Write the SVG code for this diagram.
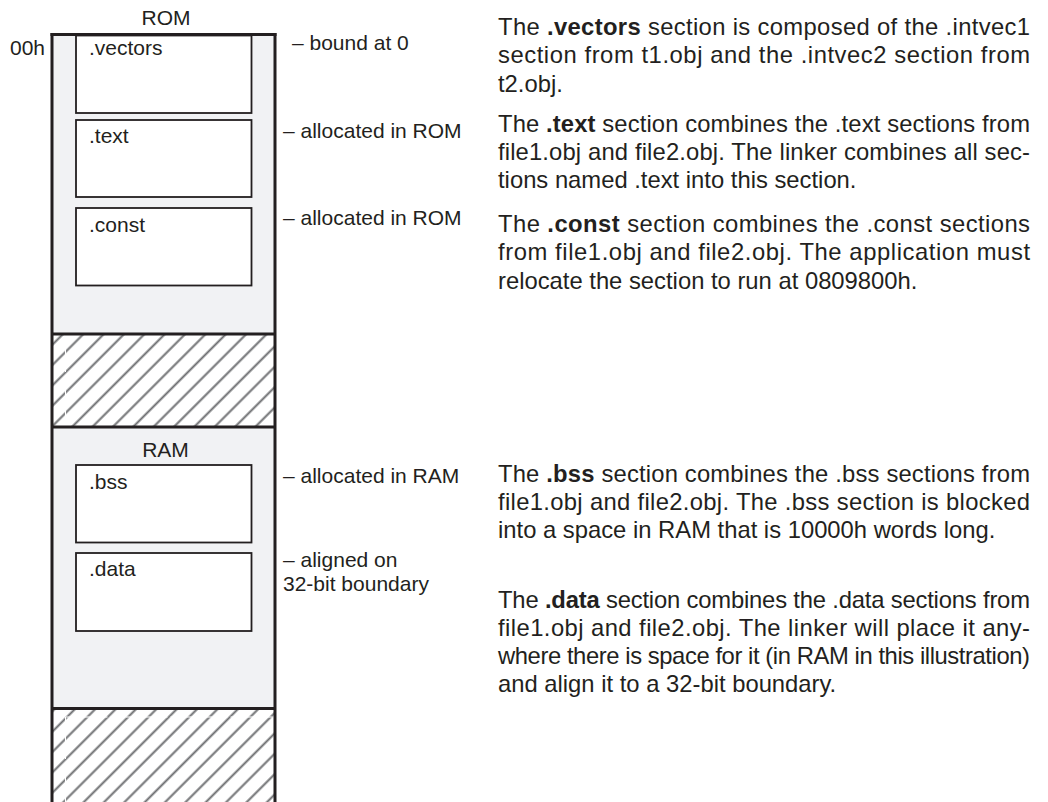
<svg xmlns="http://www.w3.org/2000/svg" width="1048" height="802" viewBox="0 0 1048 802">
<style>
.t{font-family:"Liberation Sans",Arial,sans-serif;fill:#231f20}
.lab{font-size:21px}
.body{font-size:23.8px}
.b{font-weight:bold}
.box{fill:#ffffff;stroke:#231f20;stroke-width:1.8}
.edge{stroke:#231f20;stroke-width:3;fill:none}
.reg{fill:#f1f2f4}
</style>
<defs>
<pattern id="hatch" patternUnits="userSpaceOnUse" width="14.4" height="14.4" patternTransform="rotate(45)">
<line x1="7.2" y1="-1" x2="7.2" y2="15.4" stroke="#6d6e71" stroke-width="2"/>
</pattern>
</defs>
<rect width="1048" height="802" fill="#ffffff"/>
<g id="memory-column">
<rect class="reg" x="52" y="34" width="223" height="300"/>
<rect fill="url(#hatch)" x="53" y="334" width="221" height="93"/>
<rect class="reg" x="52" y="427" width="223" height="281.5"/>
<rect fill="url(#hatch)" x="53" y="708.5" width="221" height="94"/>
<g stroke="#ffffff" stroke-width="1" stroke-dasharray="12 3" fill="none">
<line x1="65.5" y1="345" x2="65.5" y2="426"/>
<line x1="65.5" y1="717" x2="65.5" y2="802"/>
<line x1="65.5" y1="717" x2="274" y2="717"/>
</g>
<line class="edge" x1="52" y1="33" x2="52" y2="802"/>
<line class="edge" x1="275" y1="33" x2="275" y2="802"/>
<line class="edge" x1="50.5" y1="34.5" x2="276.5" y2="34.5"/>
<line class="edge" x1="52" y1="334" x2="275" y2="334"/>
<line class="edge" x1="52" y1="427" x2="275" y2="427"/>
<line class="edge" x1="52" y1="708.5" x2="275" y2="708.5"/>
<text class="t lab" x="166" y="25" text-anchor="middle">ROM</text>
<text class="t lab" x="10" y="55">00h</text>
<text class="t lab" x="165.5" y="456.5" text-anchor="middle">RAM</text>
</g>
<g id="node-vectors">
<rect class="box" x="76" y="35.5" width="175.5" height="77.5"/>
<text class="t lab" x="89" y="55">.vectors</text>
</g>
<g id="node-text">
<rect class="box" x="76" y="120" width="175.5" height="77"/>
<text class="t lab" x="89" y="143">.text</text>
</g>
<g id="node-const">
<rect class="box" x="76" y="208" width="175.5" height="77.5"/>
<text class="t lab" x="89" y="232">.const</text>
</g>
<g id="node-bss">
<rect class="box" x="76" y="465" width="175.5" height="77.5"/>
<text class="t lab" x="89" y="489">.bss</text>
</g>
<g id="node-data">
<rect class="box" x="76" y="553" width="175.5" height="78"/>
<text class="t lab" x="89" y="576">.data</text>
</g>
<g id="connectors"></g>
<g id="annotations">
<text class="t lab" x="292" y="50">– bound at 0</text>
<text class="t lab" x="283" y="138">– allocated in ROM</text>
<text class="t lab" x="283" y="225">– allocated in ROM</text>
<text class="t lab" x="283" y="483">– allocated in RAM</text>
<text class="t lab" x="283" y="567">– aligned on</text>
<text class="t lab" x="283" y="591">32-bit boundary</text>
</g>
<g id="desc-vectors">
<text class="t body" x="498" y="34.5" textLength="532" lengthAdjust="spacing">The <tspan class="b">.vectors</tspan> section is composed of the .intvec1</text>
<text class="t body" x="498" y="63" textLength="532" lengthAdjust="spacing">section from t1.obj and the .intvec2 section from</text>
<text class="t body" x="498" y="91.5">t2.obj.</text>
</g>
<g id="desc-text">
<text class="t body" x="498" y="131.5" textLength="532" lengthAdjust="spacing">The <tspan class="b">.text</tspan> section combines the .text sections from</text>
<text class="t body" x="498" y="159.5" textLength="532" lengthAdjust="spacing">file1.obj and file2.obj. The linker combines all sec-</text>
<text class="t body" x="498" y="187.5">tions named .text into this section.</text>
</g>
<g id="desc-const">
<text class="t body" x="498" y="231.5" textLength="532" lengthAdjust="spacing">The <tspan class="b">.const</tspan> section combines the .const sections</text>
<text class="t body" x="498" y="260" textLength="532" lengthAdjust="spacing">from file1.obj and file2.obj. The application must</text>
<text class="t body" x="498" y="288.5">relocate the section to run at 0809800h.</text>
</g>
<g id="desc-bss">
<text class="t body" x="498" y="482" textLength="532" lengthAdjust="spacing">The <tspan class="b">.bss</tspan> section combines the .bss sections from</text>
<text class="t body" x="498" y="510" textLength="532" lengthAdjust="spacing">file1.obj and file2.obj. The .bss section is blocked</text>
<text class="t body" x="498" y="538">into a space in RAM that is 10000h words long.</text>
</g>
<g id="desc-data">
<text class="t body" x="498" y="608" textLength="532" lengthAdjust="spacing">The <tspan class="b">.data</tspan> section combines the .data sections from</text>
<text class="t body" x="498" y="636" textLength="532" lengthAdjust="spacing">file1.obj and file2.obj. The linker will place it any-</text>
<text class="t body" x="498" y="664" textLength="532" lengthAdjust="spacing">where there is space for it (in RAM in this illustration)</text>
<text class="t body" x="498" y="692">and align it to a 32-bit boundary.</text>
</g>
</svg>
